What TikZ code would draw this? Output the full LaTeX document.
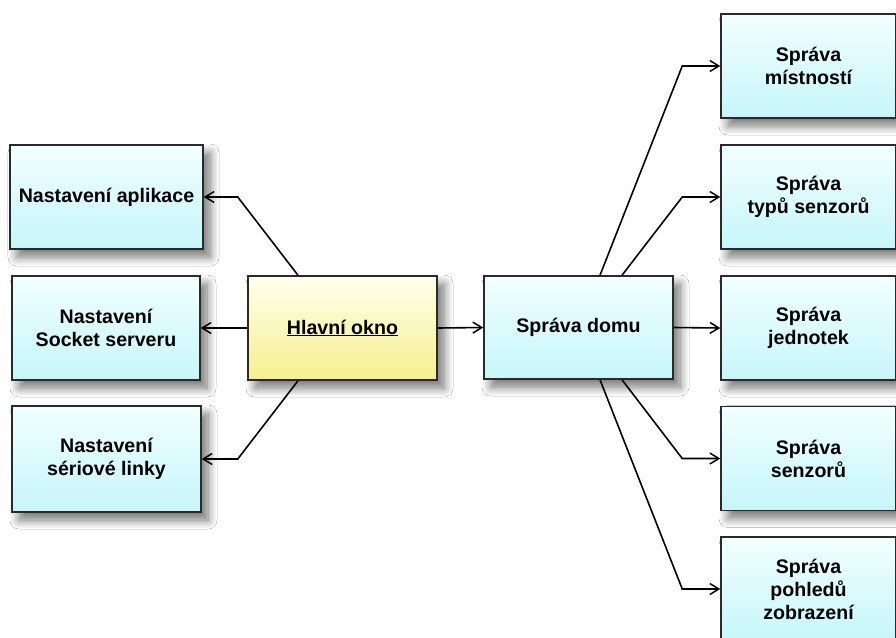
\documentclass[tikz,border=0pt]{standalone}
\usepackage{fontspec}
\setmainfont{Liberation Sans}
\usetikzlibrary{arrows.meta,shadows.blur}
\definecolor{boxtop}{HTML}{F2FFFF}
\definecolor{boxbot}{HTML}{C6F6FA}
\definecolor{maintop}{HTML}{FFFFEE}
\definecolor{mainbot}{HTML}{F6F08E}
\definecolor{edge}{HTML}{2A2A2A}
\tikzset{
  box/.style={draw=edge, line width=1.5pt, rectangle, align=center,
    font=\fontsize{19.6}{23}\selectfont\bfseries,
    top color=boxtop, bottom color=boxbot,
    blur shadow={shadow xshift=7pt, shadow yshift=-8pt, shadow blur steps=12,
      shadow blur radius=9pt, shadow opacity=55},
    minimum width=189pt, minimum height=104pt, inner sep=0pt},
  mainbox/.style={box, top color=maintop, bottom color=mainbot},
  rbox/.style={box, minimum width=175pt},
  link/.style={draw=black, line width=1.6pt,
    -{Straight Barb[length=9pt,width=11pt,line width=1.5pt]}},
}
\begin{document}
\begin{tikzpicture}[x=1pt,y=-1pt]
  \clip (0,0) rectangle (896,637);
  \fill[white] (0,0) rectangle (896,637);

  % left column
  \node[box, minimum width=193pt] (app) at (106.5,197) {Nastavení aplikace};
  \node[box, minimum width=188pt] (sock) at (106,328) {Nastavení\\Socket serveru};
  \node[box, minimum height=106pt] (ser) at (106.5,459) {Nastavení\\sériové linky};

  % centre
  \node[mainbox] (main) at (342.5,328) {\underline{Hlavní okno}};
  \node[box, minimum height=103pt] (dom) at (578.5,327.5) {Správa domu};

  % right column
  \node[rbox] (mist) at (808.5,66) {Správa\\místností};
  \node[rbox] (typ) at (808.5,197) {Správa\\typů senzorů};
  \node[rbox] (jed) at (808.5,328) {Správa\\jednotek};
  \node[rbox] (sen) at (808.5,458.5) {Správa\\senzorů};
  \node[rbox] (poh) at (808.5,589) {Správa\\pohledů\\zobrazení};

  % connectors from the main window
  \draw[link] ([xshift=-44.5pt]main.north) -- ([xshift=34pt]app.east) -- (app.east);
  \draw[link] (main.west) -- (sock.east);
  \draw[link] ([xshift=-44.5pt]main.south) -- ([xshift=36pt]ser.east) -- (ser.east);
  \draw[link] (main.east) -- (dom.west);

  % connectors from house management
  \draw[link] ([xshift=21.5pt]dom.north) -- ([xshift=-38pt]mist.west) -- (mist.west);
  \draw[link] ([xshift=43.5pt]dom.north) -- ([xshift=-38pt]typ.west) -- (typ.west);
  \draw[link] (dom.east) -- (jed.west);
  \draw[link] ([xshift=43.5pt]dom.south) -- ([xshift=-38pt]sen.west) -- (sen.west);
  \draw[link] ([xshift=21.5pt]dom.south) -- ([xshift=-38pt]poh.west) -- (poh.west);
\end{tikzpicture}
\end{document}
